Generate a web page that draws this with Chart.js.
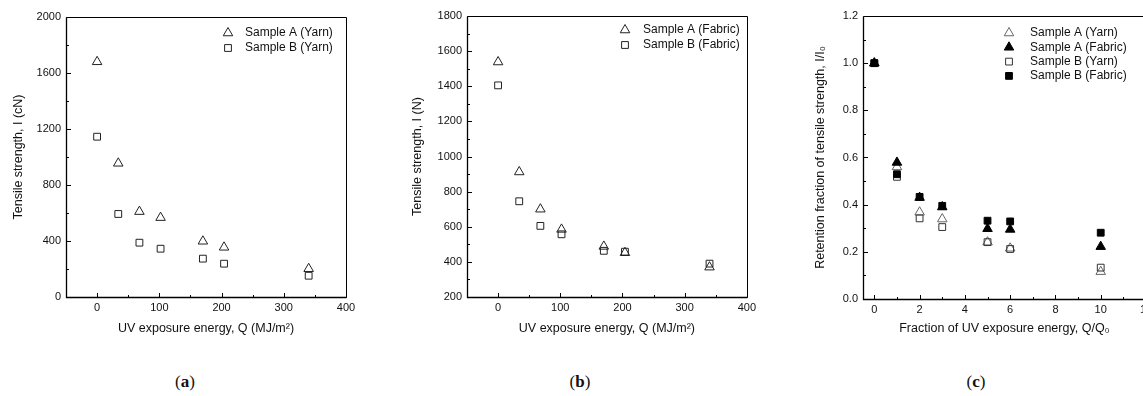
<!DOCTYPE html>
<html>
<head>
<meta charset="utf-8">
<script src="https://cdn.jsdelivr.net/npm/chart.js@4.4.1/dist/chart.umd.min.js"></script>
<style>
  html, body { margin:0; padding:0; background:#fff; overflow:hidden; width:1143px; height:396px; }
  canvas { position:absolute; top:0; }
  .cap { position:absolute; top:372px; width:60px; text-align:center; font-family:"Liberation Serif","DejaVu Serif",serif; font-size:17px; color:#111; }
  .cap b { font-weight:bold; }
</style>
</head>
<body>
<canvas id="ca" width="380" height="345" style="left:0px"></canvas>
<canvas id="cb" width="380" height="345" style="left:380px"></canvas>
<canvas id="cc" width="420" height="345" style="left:760px"></canvas>
<div class="cap" style="left:155px">(<b>a</b>)</div>
<div class="cap" style="left:550px">(<b>b</b>)</div>
<div class="cap" style="left:946px">(<b>c</b>)</div>
<script>
// ---- data ----
const qEnergy   = [0, 34, 68, 102, 170, 204, 340];          // MJ/m2
const yarnA     = [1680, 955, 610, 567, 398, 355, 202];     // cN
const yarnB     = [1145, 593, 388, 345, 274, 238, 152];     // cN
const fabricA   = [1538, 912, 700, 585, 488, 452, 370];     // N
const fabricB   = [1405, 745, 605, 557, 463, 458, 390];     // N
const qFraction = [0, 1, 2, 3, 5, 6, 10];                   // Q/Q0
const retYarnA   = [1.0, 0.560, 0.368, 0.339, 0.241, 0.215, 0.116];
const retFabricA = [1.0, 0.579, 0.430, 0.390, 0.298, 0.295, 0.222];
const retYarnB   = [1.0, 0.518, 0.342, 0.305, 0.241, 0.212, 0.133];
const retFabricB = [1.0, 0.529, 0.433, 0.395, 0.332, 0.329, 0.281];

const FONT = "'Liberation Sans', Arial, sans-serif";
const TXT = '#111';

function pts(xs, ys) { return xs.map((x, i) => ({x: x, y: ys[i]})); }

function drawMarker(ctx, style, x, y, r, fill, stroke) {
  ctx.beginPath();
  if (style === 'triangle') {
    ctx.moveTo(x, y - r);
    ctx.lineTo(x + 0.866 * r, y + 0.5 * r);
    ctx.lineTo(x - 0.866 * r, y + 0.5 * r);
    ctx.closePath();
  } else {
    const h = 0.707 * r;
    ctx.rect(x - h, y - h, 2 * h, 2 * h);
  }
  if (fill) { ctx.fillStyle = fill; ctx.fill(); }
  ctx.strokeStyle = stroke; ctx.lineWidth = 1; ctx.stroke();
}

const framePlugin = {
  id: 'frame',
  afterDraw(chart) {
    const o = chart.options.plugins.frame;
    const {ctx, chartArea: a, scales: {x, y}} = chart;
    ctx.save();
    const L = Math.round(a.left) + 0.5, R = Math.round(a.right) + 0.5;
    const T = Math.round(a.top) + 0.5, B = Math.round(a.bottom) + 0.5;
    ctx.strokeStyle = '#000';
    ctx.lineWidth = 1;
    ctx.beginPath();
    ctx.moveTo(L, T); ctx.lineTo(R, T); ctx.lineTo(R, B);
    ctx.stroke();
    ctx.lineWidth = 1.3;
    ctx.beginPath();
    ctx.moveTo(L, T); ctx.lineTo(L, B); ctx.lineTo(R, B);
    ctx.stroke();
    ctx.lineWidth = 1;
    const isMajor = (s, v) => s.ticks.some(t => Math.abs(t.value - v) < 1e-7);
    // x ticks (inward)
    let k0 = Math.ceil(x.min / o.xMinor - 1e-9), k1 = Math.floor(x.max / o.xMinor + 1e-9);
    for (let k = k0; k <= k1; k++) {
      const v = k * o.xMinor;
      const px = Math.round(x.getPixelForValue(v)) + 0.5;
      const len = isMajor(x, v) ? 4.5 : 2.5;
      ctx.beginPath(); ctx.moveTo(px, B); ctx.lineTo(px, B - len); ctx.stroke();
    }
    k0 = Math.ceil(y.min / o.yMinor - 1e-9); k1 = Math.floor(y.max / o.yMinor + 1e-9);
    for (let k = k0; k <= k1; k++) {
      const v = k * o.yMinor;
      const py = Math.round(y.getPixelForValue(v)) + 0.5;
      const len = isMajor(y, v) ? 4.5 : 2.5;
      ctx.beginPath(); ctx.moveTo(L, py); ctx.lineTo(L + len, py); ctx.stroke();
    }
    // legend
    ctx.font = '12px ' + FONT;
    ctx.textBaseline = 'middle';
    ctx.textAlign = 'left';
    o.legend.forEach((it, i) => {
      const yy = o.legY + i * o.legStep;
      drawMarker(ctx, it.style, o.legMarkX, yy, it.r, it.fill, it.stroke);
      ctx.fillStyle = TXT;
      ctx.fillText(it.label, o.legTextX, yy);
    });
    ctx.restore();
  }
};

function xScale(min, max, step, title, h) {
  return {
    type: 'linear', min: min, max: max, position: 'bottom',
    ticks: { stepSize: step, includeBounds: false, padding: 4, color: TXT, font: {family: FONT, size: 11}, maxRotation: 0, autoSkip: false },
    grid: { display: false, drawTicks: false },
    border: { display: false },
    title: { display: true, text: title, color: TXT, font: {family: FONT, size: 12.5}, padding: {top: 0, bottom: 9} },
    afterBuildTicks: s => { s.ticks = s.ticks.filter(t => Math.abs(t.value / step - Math.round(t.value / step)) < 1e-6); },
    afterFit: s => { s.height = h; }
  };
}
function yScale(min, max, step, title, w, tpad, fmt) {
  return {
    type: 'linear', min: min, max: max,
    ticks: { stepSize: step, padding: 5, color: TXT, font: {family: FONT, size: 11}, autoSkip: false, callback: fmt || (v => v) },
    grid: { display: false, drawTicks: false },
    border: { display: false },
    title: { display: true, text: title, color: TXT, font: {family: FONT, size: 12.5}, padding: {top: tpad, bottom: 0} },
    afterFit: s => { s.width = w; }
  };
}

function ds(label, xs, ys, style, r, fill, stroke, order) {
  return { label: label, data: pts(xs, ys), pointStyle: style, pointRadius: r, pointHoverRadius: r,
           backgroundColor: fill, borderColor: stroke, borderWidth: 1, showLine: false, order: order };
}

function makeChart(id, datasets, scales, padding, frame) {
  return new Chart(document.getElementById(id), {
    type: 'scatter',
    data: { datasets: datasets },
    options: {
      responsive: false, animation: false, devicePixelRatio: 1, events: [],
      layout: { padding: padding },
      scales: scales,
      plugins: { legend: {display: false}, tooltip: {enabled: false}, frame: frame }
    },
    plugins: [framePlugin]
  });
}

const OPEN = 'rgba(0,0,0,0)';
const RT = 5.5, RS = 4.8;

// (a)
makeChart('ca', [
  ds('Sample A (Yarn)', qEnergy, yarnA, 'triangle', RT, OPEN, '#222', 1),
  ds('Sample B (Yarn)', qEnergy, yarnB, 'rect', RS, OPEN, '#222', 0)
], {
  x: xScale(-50, 400, 100, 'UV exposure energy, Q (MJ/m\u00B2)', 48),
  y: yScale(0, 2000, 400, 'Tensile strength, I (cN)', 66, 11)
}, {top: 17, right: 34, left: 0, bottom: 0}, {
  xMinor: 50, yMinor: 200, legMarkX: 228, legTextX: 245, legY: 33, legStep: 15,
  legend: [
    {style: 'triangle', r: RT, fill: null, stroke: '#222', label: 'Sample A (Yarn)'},
    {style: 'rect', r: RS, fill: null, stroke: '#222', label: 'Sample B (Yarn)'}
  ]
});

// (b)
makeChart('cb', [
  ds('Sample A (Fabric)', qEnergy, fabricA, 'triangle', RT, OPEN, '#222', 1),
  ds('Sample B (Fabric)', qEnergy, fabricB, 'rect', RS, OPEN, '#222', 0)
], {
  x: xScale(-50, 400, 100, 'UV exposure energy, Q (MJ/m\u00B2)', 48),
  y: yScale(200, 1800, 200, 'Tensile strength, I (N)', 87, 30.5)
}, {top: 16, right: 11, left: 0, bottom: 0}, {
  xMinor: 50, yMinor: 100, legMarkX: 245, legTextX: 263, legY: 30, legStep: 15,
  legend: [
    {style: 'triangle', r: RT, fill: null, stroke: '#222', label: 'Sample A (Fabric)'},
    {style: 'rect', r: RS, fill: null, stroke: '#222', label: 'Sample B (Fabric)'}
  ]
});

// (c)
makeChart('cc', [
  ds('Sample A (Yarn)', qFraction, retYarnA, 'triangle', RT, OPEN, '#666', 3),
  ds('Sample A (Fabric)', qFraction, retFabricA, 'triangle', RT, '#000', '#000', 1),
  ds('Sample B (Yarn)', qFraction, retYarnB, 'rect', RS, OPEN, '#333', 2),
  ds('Sample B (Fabric)', qFraction, retFabricB, 'rect', RS, '#000', '#000', 0)
], {
  x: xScale(-0.5, 12, 2, 'Fraction of UV exposure energy, Q/Q\u2080', 46),
  y: yScale(0, 1.2, 0.2, 'Retention fraction of tensile strength, I/I\u2080', 103, 53, v => Number(v).toFixed(1))
}, {top: 16, right: 34, left: 0, bottom: 0}, {
  xMinor: 1, yMinor: 0.1, legMarkX: 249, legTextX: 270, legY: 33, legStep: 14.3,
  legend: [
    {style: 'triangle', r: RT, fill: null, stroke: '#666', label: 'Sample A (Yarn)'},
    {style: 'triangle', r: RT, fill: '#000', stroke: '#000', label: 'Sample A (Fabric)'},
    {style: 'rect', r: RS, fill: null, stroke: '#333', label: 'Sample B (Yarn)'},
    {style: 'rect', r: RS, fill: '#000', stroke: '#000', label: 'Sample B (Fabric)'}
  ]
});
</script>
</body>
</html>
